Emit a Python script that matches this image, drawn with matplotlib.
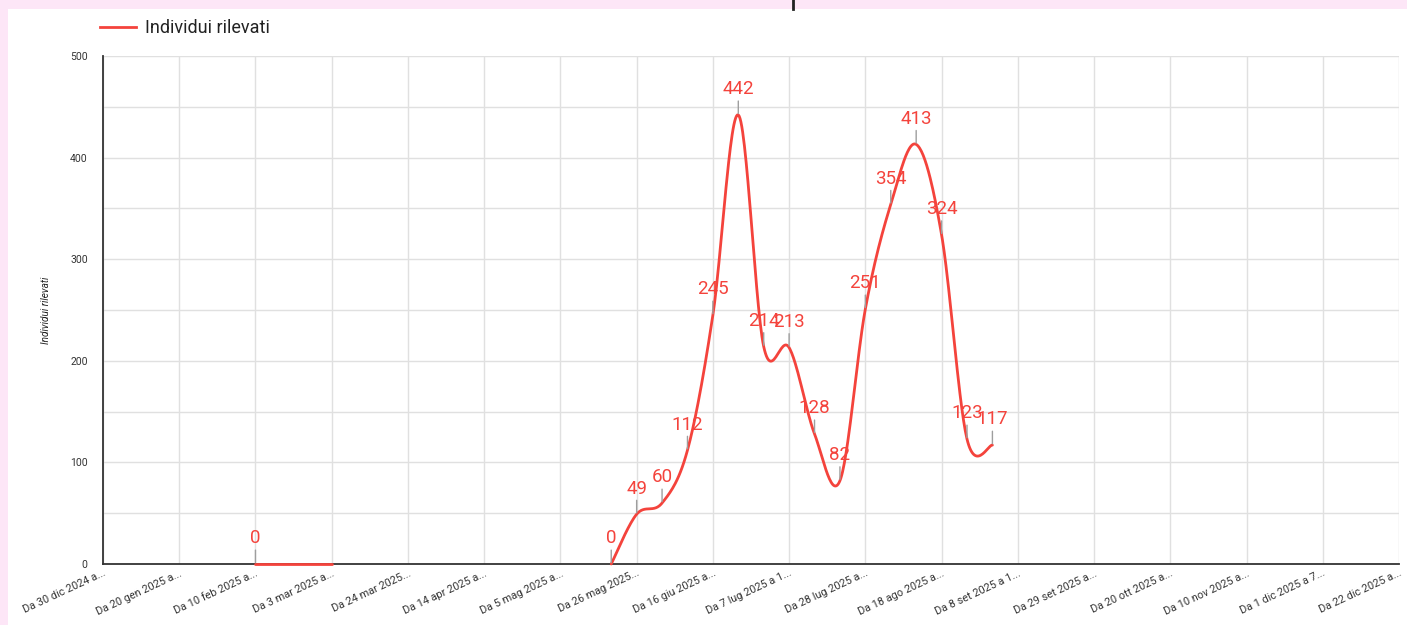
import numpy as np
import pandas as pd
import matplotlib
matplotlib.use("Agg")
import matplotlib.pyplot as plt
import matplotlib.dates as mdates
from matplotlib.patches import Rectangle
from matplotlib.lines import Line2D

plt.rcParams['font.family'] = ['Roboto', 'DejaVu Sans']

# weekly counts (week start dates)
weeks = ["2025-02-10", "2025-02-17", "2025-02-24", "2025-03-03",
         "2025-05-19", "2025-05-26", "2025-06-02", "2025-06-09", "2025-06-16",
         "2025-06-23", "2025-06-30", "2025-07-07", "2025-07-14", "2025-07-21",
         "2025-07-28", "2025-08-04", "2025-08-11", "2025-08-18", "2025-08-25",
         "2025-09-01"]
values = [0, 0, 0, 0,
          0, 49, 60, 112, 245, 442, 214, 213, 128, 82, 251, 354, 413, 324, 123, 117]
segment = [0, 0, 0, 0,
           1, 1, 1, 1, 1, 1, 1, 1, 1, 1, 1, 1, 1, 1, 1, 1]

tick_dates = pd.date_range("2024-12-30", "2025-12-22", freq="21D")
tick_labels = ["Da 30 dic 2024 a...", "Da 20 gen 2025 a...", "Da 10 feb 2025 a...",
               "Da 3 mar 2025 a...", "Da 24 mar 2025...", "Da 14 apr 2025 a...",
               "Da 5 mag 2025 a...", "Da 26 mag 2025...", "Da 16 giu 2025 a...",
               "Da 7 lug 2025 a 1...", "Da 28 lug 2025 a...", "Da 18 ago 2025 a...",
               "Da 8 set 2025 a 1...", "Da 29 set 2025 a...", "Da 20 ott 2025 a...",
               "Da 10 nov 2025 a...", "Da 1 dic 2025 a 7...", "Da 22 dic 2025 a..."]

RED = '#f4433c'


def catmull_rom(x, y, n=30):
    # smooth curve through the points, like the dashboard's "smooth" line
    xs, ys = [], []
    pts = np.column_stack([x, y])
    for i in range(len(pts) - 1):
        p0 = pts[i - 1] if i > 0 else pts[i]
        p1 = pts[i]
        p2 = pts[i + 1]
        p3 = pts[i + 2] if i + 2 < len(pts) else pts[i + 1]
        t = np.linspace(0, 1, n)[:, None]
        c = 0.5 * ((2 * p1) + (-p0 + p2) * t + (2 * p0 - 5 * p1 + 4 * p2 - p3) * t ** 2
                   + (-p0 + 3 * p1 - 3 * p2 + p3) * t ** 3)
        xs.append(c[:, 0])
        ys.append(c[:, 1])
    return np.concatenate(xs), np.concatenate(ys)


fig = plt.figure(figsize=(14.07, 6.25), dpi=100, facecolor='#fde6f7')
fig.patches.append(Rectangle((8 / 1407, 0), 1, 1 - 9 / 625, transform=fig.transFigure,
                             facecolor='white', edgecolor='none', zorder=-10))
fig.add_artist(Line2D([793 / 1407, 793 / 1407], [1 - 9 / 625, 1], color='#222', lw=2))

ax = fig.add_axes([103 / 1407, (625 - 564) / 625, (1399 - 103) / 1407, (564 - 56) / 625])
ax.set_zorder(1)
ax.patch.set_alpha(0)

dates = pd.to_datetime(weeks)
xnum = mdates.date2num(dates)
vals = np.array(values, dtype=float)
seg = np.array(segment)

for s in np.unique(seg):
    m = seg == s
    sx, sy = catmull_rom(xnum[m], vals[m])
    ax.plot(sx, sy, color=RED, lw=2, solid_capstyle='round', zorder=3, clip_on=False)

prev_v, prev_s = None, None
for d, v, s in zip(dates, values, segment):
    if not (v == 0 and prev_v == 0 and s == prev_s):
        ax.annotate(str(v), xy=(d, v), xytext=(0, 12), textcoords='offset points',
                    ha='center', va='bottom', color=RED, fontsize=13.5,
                    arrowprops=dict(arrowstyle='-', color='#9e9e9e', lw=1,
                                    shrinkA=0, shrinkB=1), zorder=4)
    prev_v, prev_s = v, s

ax.set_xlim(tick_dates[0], tick_dates[-1])
ax.set_ylim(0, 500)
ax.set_xticks(tick_dates)
ax.set_xticklabels(tick_labels, rotation=25, ha='right', rotation_mode='anchor',
                   fontsize=7.8, color='#333')
ax.set_yticks([0, 100, 200, 300, 400, 500])
ax.set_yticks(np.arange(0, 501, 50), minor=True)
ax.tick_params(axis='y', which='both', length=0, labelsize=7.5, labelcolor='#333', pad=11)
ax.tick_params(axis='x', length=0, pad=3)
ax.grid(True, which='both', color='#e0e0e0', lw=1)
ax.set_axisbelow(True)
for sp in ['top', 'right']:
    ax.spines[sp].set_visible(False)
for sp in ['left', 'bottom']:
    ax.spines[sp].set_color('#333')
    ax.spines[sp].set_linewidth(1.3)
ax.set_ylabel('Individui rilevati', fontsize=7.2, style='italic', color='#222', labelpad=14)

handle = Line2D([], [], color=RED, lw=2)
fig.legend([handle], ['Individui rilevati'], loc='center left',
           bbox_to_anchor=(84 / 1407, 1 - 28 / 625), frameon=False, fontsize=13,
           handlelength=2.0, handletextpad=0.5, labelcolor='#222')

fig.savefig('out.png', dpi=100, facecolor=fig.get_facecolor())
